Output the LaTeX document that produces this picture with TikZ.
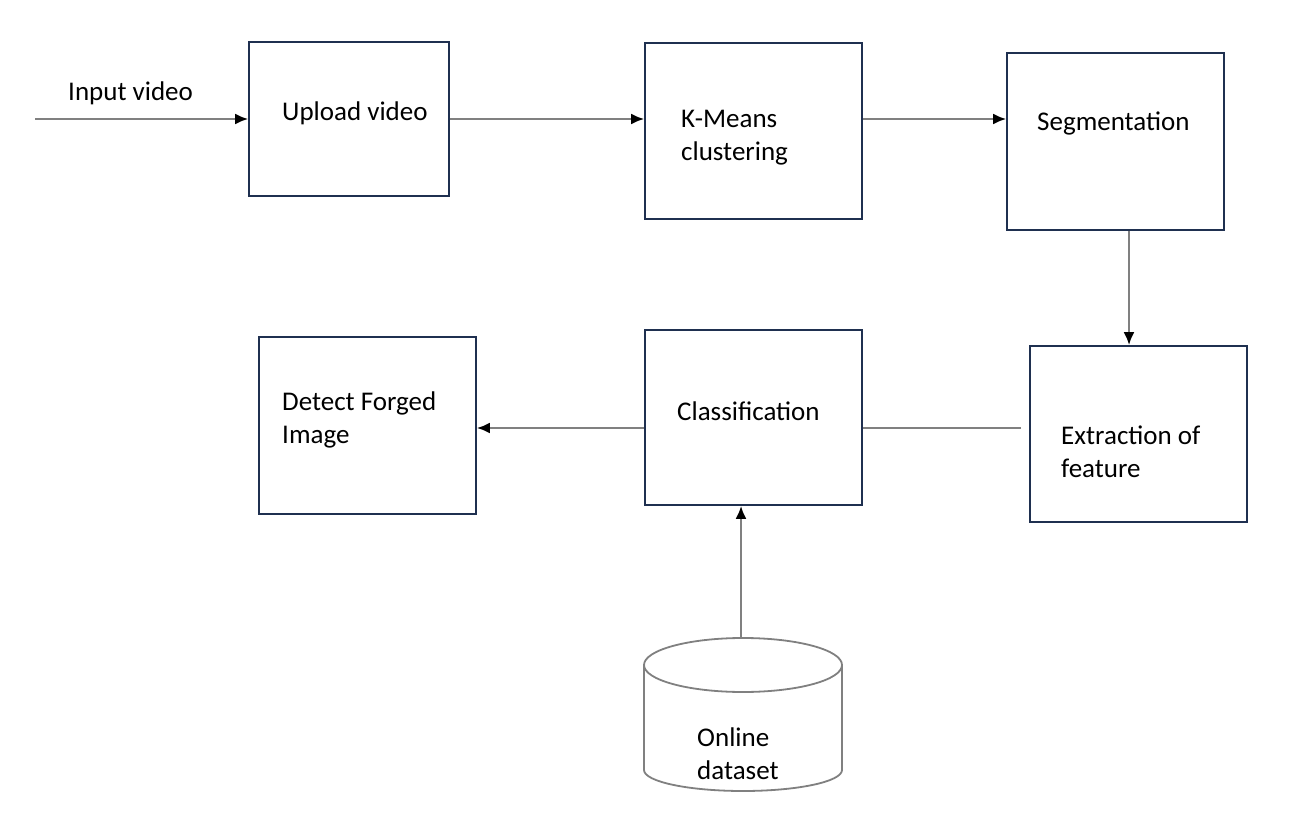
\documentclass[tikz,border=0pt]{standalone}
\usepackage{fontspec}
\setmainfont{Carlito}
\usetikzlibrary{arrows.meta}
\definecolor{boxc}{HTML}{1F3050}
\definecolor{linec}{HTML}{808080}
\tikzset{
  blk/.style={draw=boxc, line width=1.8pt, rectangle, inner sep=0pt},
  lbl/.style={anchor=west, align=left, inner sep=0pt, font=\fontsize{27}{33}\selectfont, text=black},
  conn/.style={draw=linec, line width=2.2pt},
  arr/.style={conn, -{Latex[length=13pt,width=11pt,color=black]}},
  db/.style={draw=linec, line width=1.8pt}
}
\begin{document}
\begin{tikzpicture}[x=1pt,y=-1pt]
\useasboundingbox[fill=white] (0,0) rectangle (1293,826);
% boxes
\node[blk, minimum width=200pt, minimum height=154pt] (up) at (349,119) {};
\node[blk, minimum width=217pt, minimum height=176pt] (km) at (753.5,131) {};
\node[blk, minimum width=217pt, minimum height=177pt] (seg) at (1115.5,141.5) {};
\node[blk, minimum width=217pt, minimum height=176pt] (ext) at (1138.5,434) {};
\node[blk, minimum width=217pt, minimum height=175pt] (cls) at (753.5,417.5) {};
\node[blk, minimum width=217pt, minimum height=177pt] (det) at (367.5,425.5) {};
% labels
\node[lbl] (tin) at (68,93) {Input video};
\node[lbl] (tup) at (282,113) {Upload video};
\node[lbl] (tkm) at (681,138) {K-Means\\clustering};
\node[lbl] (tseg) at (1037,123) {Segmentation};
\node[lbl] (text) at (1061,451.5) {Extraction of\\feature};
\node[lbl] (tcls) at (677,411) {Classification};
\node[lbl] (tdet) at (282,420) {Detect Forged\\Image};
% cylinder
\draw[db] (644,665) -- (644,770) arc[start angle=180, end angle=360, x radius=99, y radius=-21] -- (842,665);
\draw[db] (743,665) ellipse[x radius=99, y radius=27];
\coordinate (dbtop) at (741,638);
\node[lbl] (tdb) at (697,754) {Online\\dataset};
% connectors
\coordinate (in) at (35,119);
\coordinate (ly) at (0,428);
\draw[arr] (in) -- (up.west);
\draw[arr] (up.east) -- (km.west |- up.east);
\draw[arr] (km.east |- up.east) -- (seg.west |- up.east);
\draw[arr] ([xshift=13.5pt]seg.south) -- ([xshift=13.5pt]seg.south |- ext.north);
\draw[conn] ([xshift=-8pt]ext.west |- ly) -- (cls.east |- ly);
\draw[arr] (cls.west |- ly) -- (det.east |- ly);
\draw[arr] (dbtop) -- (cls.south -| dbtop);
\end{tikzpicture}
\end{document}
